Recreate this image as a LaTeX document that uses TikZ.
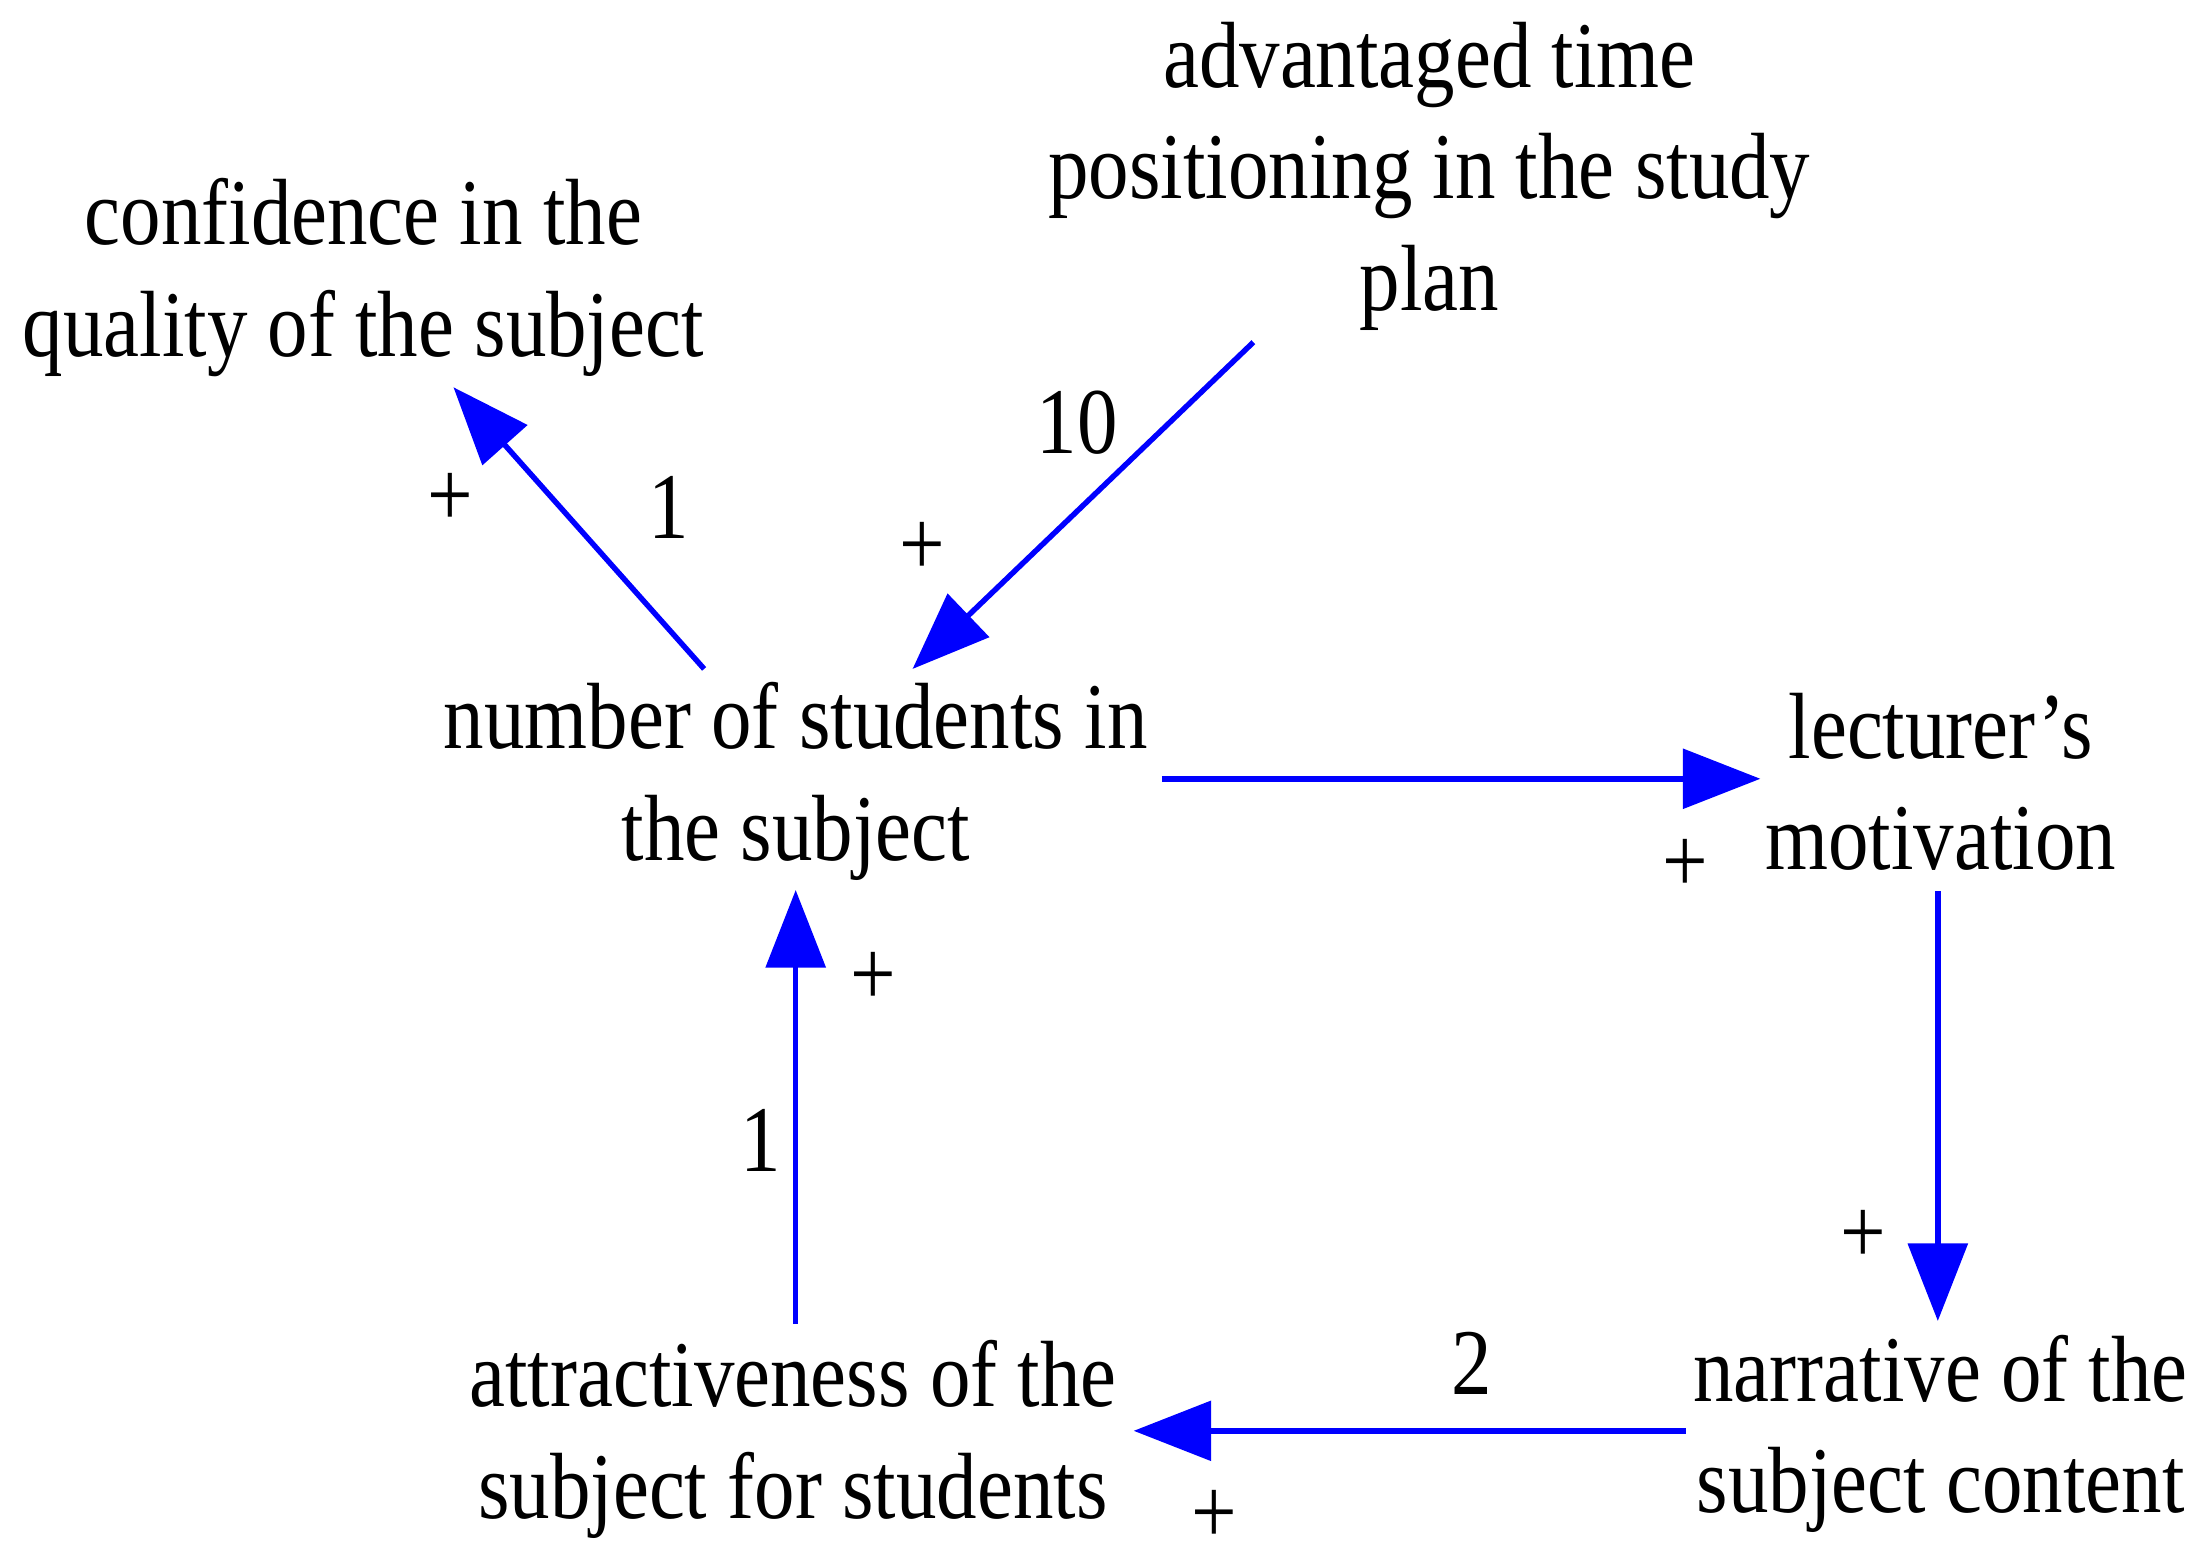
\documentclass[tikz,border=0pt]{standalone}
\usepackage{fontspec}
\setmainfont{Liberation Serif}[FakeStretch=0.86]
\usetikzlibrary{arrows.meta}
\begin{document}
\begin{tikzpicture}[x=0.01cm,y=-0.01cm]
  \tikzstyle{var}=[align=center,font=\fontsize{19}{22.5}\selectfont,inner sep=0pt]
  \tikzstyle{lbl}=[font=\fontsize{19}{22}\selectfont,inner sep=0pt]
  \tikzstyle{link}=[draw=blue,line width=1.1pt,-{Triangle[length=0.55cm,width=0.42cm]}]
  \useasboundingbox (0,0) rectangle (1565,1110);

  \node[var] (conf) at (258,197) {confidence in the\\quality of the subject};
  \node[var] (time) at (1015,125) {advantaged time\\positioning in the study\\plan};
  \node[var] (num) at (565,555) {number of students in\\the subject};
  \node[var] (lect) at (1378,555) {lecturer's\\motivation};
  \node[var] (narr) at (1378,1018) {narrative of the\\subject content};
  \node[var] (attr) at (563,1022) {attractiveness of the\\subject for students};

  % connector ends
  \foreach \name/\x/\y in {a1/500/475, a2/322/275, b1/890/243, b2/648/475,
                           c1/825/553, c2/1250/553, d1/1376/633, d2/1376/938,
                           e1/1197/1016, e2/805/1016, f1/565/940, f2/565/632}
    \coordinate (\name) at (\x,\y);

  \foreach \from/\to in {a1/a2, b1/b2, c1/c2, d1/d2, e1/e2, f1/f2}
    \draw[link] (\from) -- (\to);

  \foreach \name/\x/\y/\text in {p1/320/355/+, n1/475/360/1, n2/765/300/10,
                                 p2/655/390/+, p3/1197/615/+, p4/1323/878/+,
                                 n3/1045/968/2, p5/862/1077/+, n4/540/810/1,
                                 p6/620/695/+}
    \node[lbl] (\name) at (\x,\y) {\text};
\end{tikzpicture}
\end{document}
